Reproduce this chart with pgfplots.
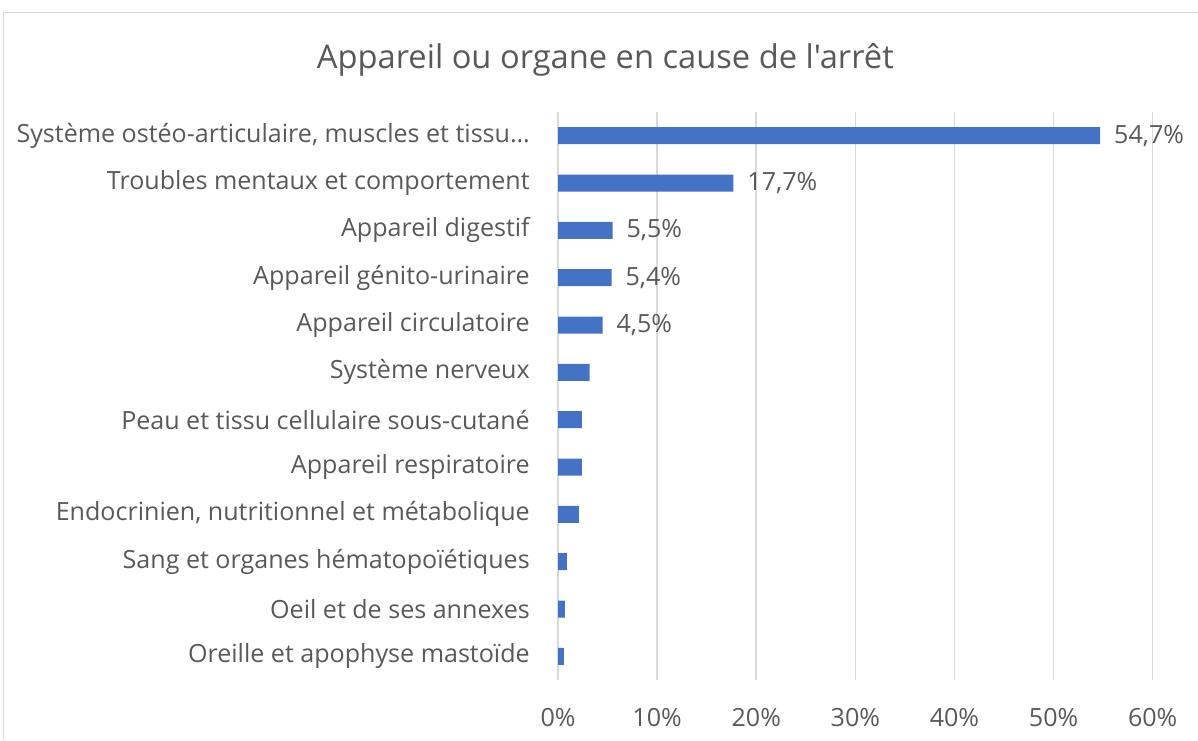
\documentclass[border=0pt]{standalone}
\usepackage{pgfplots}
\pgfplotsset{compat=1.18}
\usepackage{fontspec}
\setmainfont{Open Sans}
\newfontfamily\plainfont{Open Sans}[Ligatures=TeXOff]
\definecolor{barblue}{HTML}{4472C4}
\definecolor{txtgray}{HTML}{595959}
\definecolor{gridgray}{HTML}{D9D9D9}
\begin{document}
\begin{tikzpicture}
\path[use as bounding box] (0pt,0pt) rectangle (898.5pt,555pt);
\draw[gridgray, line width=1.2pt] (2.5pt,0pt) -- (2.5pt,545.5pt) -- (898.5pt,545.5pt);
\node[txtgray, font=\plainfont\fontsize{24.5}{29}\selectfont] at (454pt,510pt) {Appareil ou organe en cause de l'arrêt};
\begin{axis}[
  at={(418.5pt,45pt)}, anchor=south west,
  scale only axis, width=446pt, height=426pt,
  xbar, bar width=12.75pt,
  xmin=0, xmax=60, ymin=-0.5, ymax=11.5,
  y dir=reverse,
  axis line style={draw=none},
  xmajorgrids, grid style={gridgray, line width=1.2pt},
  xtick={0,10,...,60},
  major tick length=0pt,
  ytick={0,...,11},
  yticklabels={{Système ostéo-articulaire, muscles et tissu…},Troubles mentaux et comportement,Appareil digestif,Appareil génito-urinaire,Appareil circulatoire,Système nerveux,Peau et tissu cellulaire sous-cutané,Appareil respiratoire,{Endocrinien, nutritionnel et métabolique},Sang et organes hématopoïétiques,Oeil et de ses annexes,Oreille et apophyse mastoïde},
  /pgf/number format/assume math mode=true,
  xticklabel={\pgfmathprintnumber{\tick}\%},
  tick label style={txtgray, font=\fontsize{18.8}{22}\selectfont},
  xticklabel style={anchor=north, inner sep=0pt, yshift=-21pt},
  yticklabel style={anchor=east, inner sep=0pt, xshift=-21pt},
  clip=false,
]
\addplot[fill=barblue, draw=none, bar shift=0pt,
  nodes near coords={\pgfmathprintnumber[fixed,fixed zerofill,precision=1,use comma]{\pgfplotspointmeta}\%},
  nodes near coords style={txtgray, font=\fontsize{18.8}{22}\selectfont, anchor=west, xshift=7pt},
] coordinates {(54.7,0) (17.7,1) (5.5,2) (5.4,3) (4.5,4)};
\addplot[fill=barblue, draw=none, bar shift=0pt] coordinates {(3.2,5) (2.4,6) (2.4,7) (2.1,8) (0.9,9) (0.7,10) (0.6,11)};
\end{axis}
\end{tikzpicture}
\end{document}
